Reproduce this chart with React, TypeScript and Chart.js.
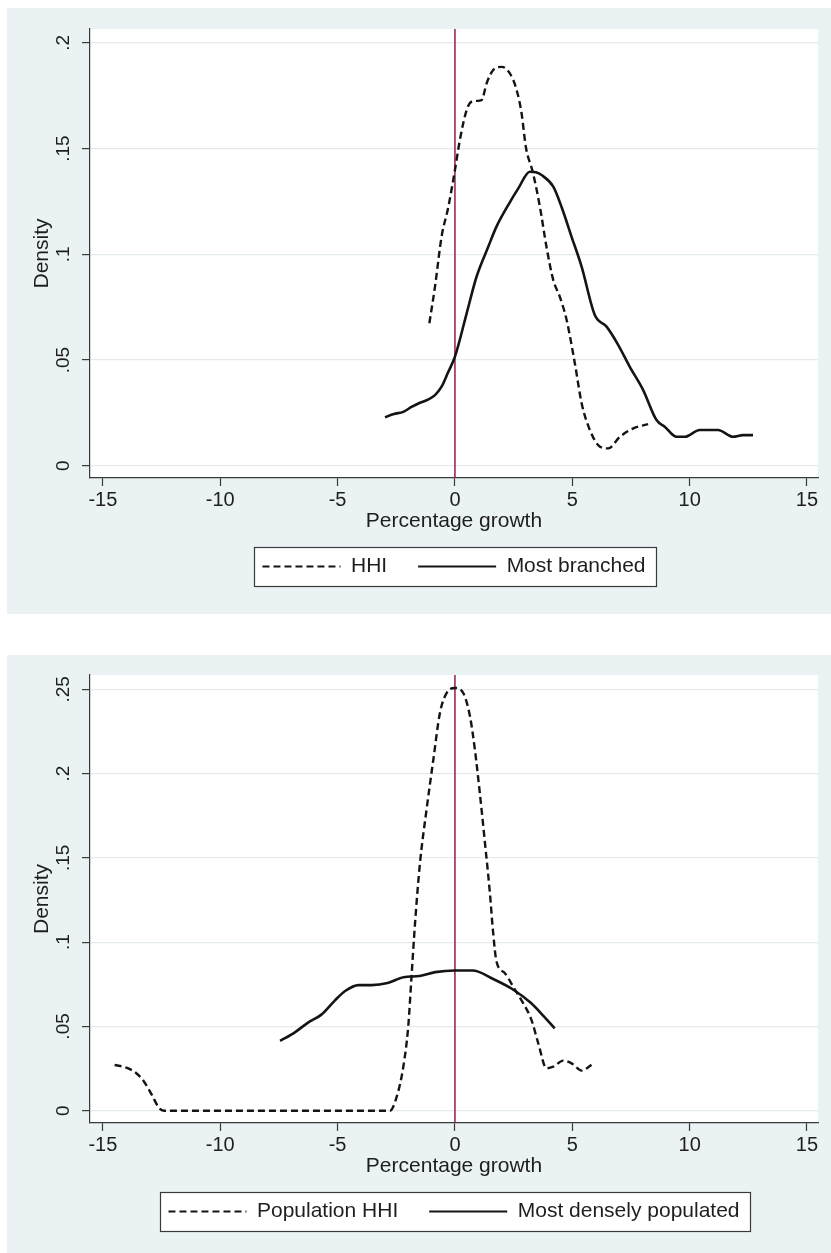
import React, { useEffect, useRef } from "react";
import { Chart, registerables } from "chart.js";

Chart.register(...registerables);

// ---------- data ----------
const xTickValues = [-15, -10, -5, 0, 5, 10, 15];
const xAxisTitle = "Percentage growth";
const yAxisTitle = "Density";

const topYTickValues = [0, 0.05, 0.1, 0.15, 0.2];
const topYTickLabels = ["0", ".05", ".1", ".15", ".2"];
const bottomYTickValues = [0, 0.05, 0.1, 0.15, 0.2, 0.25];
const bottomYTickLabels = ["0", ".05", ".1", ".15", ".2", ".25"];

const referenceLineX = 0;

// Top panel: HHI (dashed) and Most branched (solid)
const hhiLabel = "HHI";
const hhiX = [-1.09, -0.85, -0.57, -0.28, 0, 0.21, 0.5, 0.71, 0.95, 1.14, 1.35, 1.63, 1.99, 2.34, 2.63, 2.84, 3.02, 3.33, 3.62, 3.9, 4.19, 4.47, 4.76, 5.11, 5.4, 5.75, 6.18, 6.53, 7.03, 7.6, 8.23];
const hhiY = [0.0674, 0.0847, 0.1083, 0.1225, 0.1399, 0.1541, 0.1683, 0.1722, 0.1726, 0.173, 0.1809, 0.1872, 0.1887, 0.1856, 0.1777, 0.1667, 0.1509, 0.1383, 0.1225, 0.1036, 0.0878, 0.0799, 0.0689, 0.0484, 0.0295, 0.0169, 0.009, 0.0082, 0.0137, 0.0177, 0.0197];

const branchedLabel = "Most branched";
const branchedX = [-2.98, -2.6, -2.2, -1.85, -1.49, -1.15, -0.85, -0.57, -0.3, 0, 0.5, 0.92, 1.42, 1.77, 2.27, 2.7, 3.19, 3.45, 3.69, 4.19, 4.54, 4.97, 5.4, 5.96, 6.46, 6.96, 7.45, 8.02, 8.59, 8.94, 9.44, 9.8, 10.43, 11.21, 11.85, 12.27, 12.7];
const branchedY = [0.0229, 0.0245, 0.0255, 0.0278, 0.0298, 0.0313, 0.0334, 0.0374, 0.044, 0.0516, 0.0721, 0.0894, 0.1036, 0.1131, 0.1233, 0.1312, 0.1391, 0.1388, 0.1375, 0.132, 0.1225, 0.1083, 0.0941, 0.0713, 0.0658, 0.0571, 0.0468, 0.0358, 0.0216, 0.0185, 0.0137, 0.0137, 0.0169, 0.0169, 0.0137, 0.0145, 0.0145];

// Bottom panel: Population HHI (dashed) and Most densely populated (solid)
const popHhiLabel = "Population HHI";
const popHhiX = [-14.5, -14.0, -13.6, -13.26, -12.92, -12.6, -12.4, -2.77, -2.48, -2.2, -1.99, -1.85, -1.7, -1.49, -1.21, -0.92, -0.64, -0.35, 0, 0.35, 0.64, 0.85, 1.06, 1.28, 1.49, 1.63, 1.77, 2.13, 2.48, 2.91, 3.26, 3.55, 3.9, 4.19, 4.61, 4.97, 5.4, 5.82];
const popHhiY = [0.0271, 0.0255, 0.0225, 0.0175, 0.0095, 0.0015, 0, 0, 0.0083, 0.0261, 0.0499, 0.0796, 0.1113, 0.1469, 0.1786, 0.2083, 0.236, 0.2479, 0.2508, 0.2479, 0.234, 0.2142, 0.1885, 0.1588, 0.1291, 0.1053, 0.0885, 0.0816, 0.0736, 0.0637, 0.0539, 0.04, 0.0252, 0.0261, 0.0297, 0.0281, 0.0238, 0.0272];

const denseLabel = "Most densely populated";
const denseX = [-7.45, -6.82, -6.26, -5.69, -5.13, -4.68, -4.11, -3.55, -2.87, -2.19, -1.51, -0.84, 0, 0.75, 1.65, 2.44, 3.23, 3.8, 4.25];
const denseY = [0.0414, 0.0465, 0.0523, 0.057, 0.0652, 0.071, 0.0745, 0.0745, 0.0757, 0.0792, 0.0799, 0.0822, 0.0832, 0.0832, 0.078, 0.0722, 0.064, 0.0558, 0.0488];

// axis ranges
const xMin = -15.55;
const xMax = 15.47;
const topYMin = -0.0058;
const topYMax = 0.2066;
const bottomYMin = -0.0073;
const bottomYMax = 0.2585;

// ---------- styles ----------
const FONT = "'Liberation Sans', Arial, Helvetica, sans-serif";
const PANEL_BG = "#eaf2f3";
const GRID = "#e3ebee";
const AXIS = "#3a3a3a";
const TEXT = "#1e1e1e";
const CURVE = "#141414";
const REFLINE = "#8f1d4e";
const PANEL_W = 824;
const DASH = [7, 4];

const zip = (xs: number[], ys: number[]) => xs.map((x, i) => ({ x, y: ys[i] }));

const panelPlugin = {
  id: "panelDecor",
  beforeDraw(chart: any) {
    const { ctx, chartArea: a } = chart;
    ctx.save();
    ctx.fillStyle = "#ffffff";
    ctx.fillRect(a.left, a.top, a.right - a.left, a.bottom - a.top);
    const hb = chart.legend && chart.legend.legendHitBoxes;
    if (hb && hb.length) {
      const first = hb[0];
      const last = hb[hb.length - 1];
      const cy = first.top + first.height / 2;
      const x0 = Math.round(first.left - 8) + 0.5;
      const x1 = Math.round(last.left + last.width + 10) + 0.5;
      const y0 = Math.round(cy - 19.5) + 0.5;
      ctx.fillStyle = "#ffffff";
      ctx.fillRect(x0, y0, x1 - x0, 39);
      ctx.strokeStyle = AXIS;
      ctx.lineWidth = 1.2;
      ctx.strokeRect(x0, y0, x1 - x0, 39);
    }
    ctx.restore();
  },
};

type PanelSpec = {
  dashedLabel: string;
  dashedX: number[];
  dashedY: number[];
  solidLabel: string;
  solidX: number[];
  solidY: number[];
  yTicks: number[];
  yLabels: string[];
  yMin: number;
  yMax: number;
  padTop: number;
  padBottom: number;
  xAxisHeight: number;
};

function buildConfig(p: PanelSpec): any {
  return {
    type: "line",
    data: {
      datasets: [
        {
          label: p.dashedLabel,
          data: zip(p.dashedX, p.dashedY),
          borderColor: CURVE,
          backgroundColor: CURVE,
          borderWidth: 2.4,
          borderDash: DASH,
          pointRadius: 0,
          fill: false,
          cubicInterpolationMode: "monotone",
          order: 1,
        },
        {
          label: p.solidLabel,
          data: zip(p.solidX, p.solidY),
          borderColor: CURVE,
          backgroundColor: CURVE,
          borderWidth: 2.6,
          pointRadius: 0,
          fill: false,
          cubicInterpolationMode: "monotone",
          order: 0,
        },
        {
          label: "xline",
          data: [
            { x: referenceLineX, y: p.yMin },
            { x: referenceLineX, y: p.yMax },
          ],
          borderColor: REFLINE,
          borderWidth: 1.5,
          pointRadius: 0,
          fill: false,
          order: 5,
        },
      ],
    },
    options: {
      responsive: false,
      animation: false,
      devicePixelRatio: 1,
      events: [],
      layout: { padding: { left: 0, right: 13, top: p.padTop, bottom: p.padBottom } },
      scales: {
        x: {
          type: "linear",
          min: xMin,
          max: xMax,
          afterBuildTicks: (s: any) => {
            s.ticks = xTickValues.map((v) => ({ value: v }));
          },
          afterFit: (s: any) => {
            s.height = p.xAxisHeight;
          },
          grid: {
            display: true,
            drawOnChartArea: false,
            drawTicks: true,
            tickLength: 8,
            tickColor: AXIS,
            tickWidth: 1.2,
          },
          border: { display: true, color: AXIS, width: 1.2 },
          ticks: {
            color: TEXT,
            font: { family: FONT, size: 20 },
            padding: 2,
            minRotation: 0,
            maxRotation: 0,
            callback: (v: number) => String(v),
          },
          title: {
            display: true,
            text: xAxisTitle,
            color: TEXT,
            font: { family: FONT, size: 21 },
            padding: { top: 0, bottom: -9.3 },
          },
        },
        y: {
          type: "linear",
          min: p.yMin,
          max: p.yMax,
          afterBuildTicks: (s: any) => {
            s.ticks = p.yTicks.map((v) => ({ value: v }));
          },
          afterFit: (s: any) => {
            s.width = 83;
          },
          grid: {
            display: true,
            drawOnChartArea: true,
            color: GRID,
            lineWidth: 1.2,
            drawTicks: true,
            tickLength: 8,
            tickColor: AXIS,
            tickWidth: 1.2,
          },
          border: { display: true, color: AXIS, width: 1.2 },
          ticks: {
            color: TEXT,
            font: { family: FONT, size: 19 },
            minRotation: 90,
            maxRotation: 90,
            crossAlign: "center",
            padding: 5,
            callback: (v: number) => {
              const i = p.yTicks.findIndex((t) => Math.abs(t - v) < 1e-9);
              return i >= 0 ? p.yLabels[i] : "";
            },
          },
          title: {
            display: true,
            text: yAxisTitle,
            color: TEXT,
            font: { family: FONT, size: 21 },
            padding: { top: 22.4, bottom: 0 },
          },
        },
      },
      plugins: {
        tooltip: { enabled: false },
        legend: {
          display: true,
          position: "bottom",
          fullSize: false,
          labels: {
            usePointStyle: true,
            pointStyle: "line",
            pointStyleWidth: 78,
            padding: 31,
            color: TEXT,
            font: { family: FONT, size: 21 },
            filter: (item: any) => item.datasetIndex < 2,
            sort: (a: any, b: any) => a.datasetIndex - b.datasetIndex,
            generateLabels: (chart: any) => {
              const items = Chart.defaults.plugins.legend.labels.generateLabels(chart);
              return items.map((it: any) => {
                const ds = chart.data.datasets[it.datasetIndex];
                return {
                  ...it,
                  lineDash: ds.borderDash || [],
                  lineWidth: 2.2,
                  strokeStyle: CURVE,
                  fillStyle: CURVE,
                  pointStyle: "line",
                };
              });
            },
          },
        },
      },
    },
    plugins: [panelPlugin],
  };
}

function DensityPanel({ spec, height }: { spec: PanelSpec; height: number }) {
  const ref = useRef<HTMLCanvasElement | null>(null);
  useEffect(() => {
    if (!ref.current) return;
    const chart = new Chart(ref.current, buildConfig(spec));
    return () => chart.destroy();
  }, [spec]);
  return (
    <div style={{ width: PANEL_W, height, background: PANEL_BG }}>
      <canvas ref={ref} width={PANEL_W} height={height} style={{ display: "block" }} />
    </div>
  );
}

const topSpec: PanelSpec = {
  dashedLabel: hhiLabel,
  dashedX: hhiX,
  dashedY: hhiY,
  solidLabel: branchedLabel,
  solidX: branchedX,
  solidY: branchedY,
  yTicks: topYTickValues,
  yLabels: topYTickLabels,
  yMin: topYMin,
  yMax: topYMax,
  padTop: 21,
  padBottom: 27,
  xAxisHeight: 47,
};

const bottomSpec: PanelSpec = {
  dashedLabel: popHhiLabel,
  dashedX: popHhiX,
  dashedY: popHhiY,
  solidLabel: denseLabel,
  solidX: denseX,
  solidY: denseY,
  yTicks: bottomYTickValues,
  yLabels: bottomYTickLabels,
  yMin: bottomYMin,
  yMax: bottomYMax,
  padTop: 20,
  padBottom: 21,
  xAxisHeight: 47,
};

export default function App() {
  return (
    <div style={{ position: "absolute", left: 7, top: 8, width: PANEL_W }}>
      <DensityPanel spec={topSpec} height={606} />
      <div style={{ height: 41 }} />
      <DensityPanel spec={bottomSpec} height={598} />
    </div>
  );
}
